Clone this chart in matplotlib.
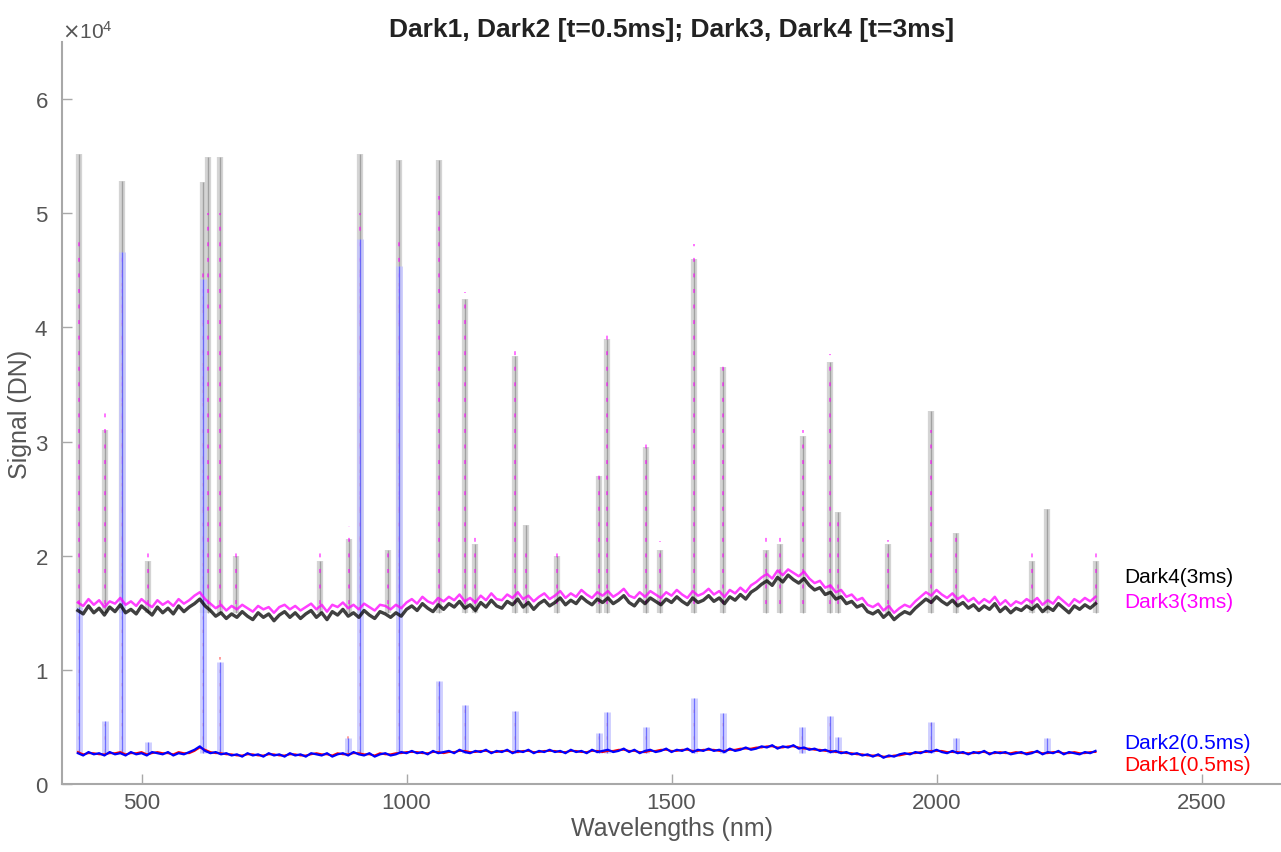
#Dark frames of the spectrometer, two integration times
#baseline samples every 10 nm, spikes listed separately

import numpy as np
import matplotlib.pyplot as plt
from matplotlib.ticker import ScalarFormatter

plt.rcParams['font.family'] = ['Liberation Sans', 'DejaVu Sans']

#wavelength grid of the baseline samples (nm), 380..2300 step 10
wavelength = np.arange(380, 2301, 10)

#baselines in hundreds of DN
dark4_base = [152, 149, 156, 150, 154, 148, 155, 151, 157, 150,
              153, 149, 156, 152, 148, 155, 150, 154, 149, 156,
              151, 155, 158, 162, 156, 152, 147, 150, 145, 149,
              146, 151, 147, 144, 150, 146, 149, 143, 148, 151,
              146, 150, 145, 149, 152, 146, 150, 144, 151, 148,
              153, 147, 150, 146, 152, 148, 145, 151, 149, 146,
              150, 147, 153, 156, 152, 158, 154, 151, 157, 153,
              158, 155, 160, 154, 157, 152, 159, 155, 161, 156,
              154, 160, 157, 162, 155, 159, 153, 158, 161, 156,
              159, 163, 157, 161, 158, 164, 160, 157, 162, 159,
              163, 158, 161, 165, 159, 156, 162, 158, 163, 160,
              157, 162, 159, 164, 160, 157, 163, 159, 161, 165,
              160, 163, 158, 164, 161, 166, 162, 168, 171, 175,
              178, 174, 181, 177, 183, 179, 176, 180, 174, 170,
              172, 166, 168, 162, 164, 158, 160, 155, 157, 151,
              149, 152, 146, 150, 144, 148, 151, 149, 154, 158,
              162, 159, 164, 160, 157, 161, 156, 159, 154, 157,
              152, 156, 153, 158, 151, 155, 150, 154, 152, 156,
              153, 157, 151, 155, 152, 158, 154, 150, 156, 153,
              157, 154, 158]

dark3_base = [159, 156, 162, 157, 161, 155, 160, 158, 163, 157,
              160, 156, 162, 158, 155, 161, 157, 160, 156, 162,
              158, 161, 165, 168, 162, 158, 154, 157, 152, 156,
              153, 157, 154, 151, 156, 153, 155, 150, 155, 157,
              153, 156, 152, 155, 158, 153, 157, 151, 157, 155,
              159, 154, 157, 153, 158, 155, 152, 157, 156, 153,
              157, 154, 159, 162, 158, 164, 160, 158, 163, 160,
              164, 161, 166, 160, 163, 159, 165, 161, 167, 162,
              161, 166, 163, 168, 162, 165, 160, 164, 167, 162,
              165, 169, 163, 167, 164, 170, 166, 163, 168, 165,
              169, 164, 167, 171, 165, 163, 168, 164, 169, 166,
              163, 168, 165, 170, 166, 163, 169, 165, 167, 171,
              166, 169, 164, 170, 167, 172, 168, 174, 177, 181,
              184, 180, 187, 183, 188, 185, 182, 186, 180, 176,
              178, 172, 174, 168, 170, 164, 166, 161, 163, 157,
              155, 158, 152, 156, 150, 154, 157, 155, 160, 164,
              168, 165, 170, 166, 163, 167, 162, 165, 160, 163,
              158, 162, 159, 164, 157, 161, 156, 160, 158, 162,
              159, 163, 157, 161, 158, 164, 160, 156, 162, 159,
              163, 160, 164]

dark2_base = [27, 25, 28, 26, 27, 25, 28, 26, 27, 25,
              28, 26, 27, 25, 28, 27, 26, 28, 25, 27,
              26, 28, 30, 33, 29, 27, 28, 26, 27, 25,
              26, 24, 27, 25, 26, 24, 27, 25, 26, 24,
              27, 25, 26, 24, 27, 26, 25, 27, 24, 26,
              27, 25, 28, 26, 25, 27, 24, 26, 27, 25,
              26, 28, 27, 29, 27, 28, 26, 29, 27, 28,
              29, 27, 30, 28, 27, 29, 28, 30, 27, 29,
              28, 30, 27, 29, 28, 30, 27, 29, 28, 30,
              28, 29, 27, 30, 28, 29, 27, 30, 28, 29,
              30, 28, 29, 31, 28, 30, 27, 29, 30, 28,
              29, 31, 28, 30, 29, 31, 28, 30, 29, 31,
              29, 30, 28, 31, 29, 30, 32, 30, 31, 33,
              32, 34, 31, 33, 32, 34, 31, 32, 30, 31,
              29, 30, 28, 29, 27, 28, 26, 27, 25, 26,
              24, 26, 23, 25, 24, 26, 27, 26, 28, 27,
              29, 28, 30, 28, 27, 29, 27, 28, 26, 28,
              27, 29, 26, 28, 27, 28, 26, 27, 28, 26,
              27, 29, 26, 28, 27, 29, 26, 28, 27, 26,
              28, 27, 29]

dark1_base = [28, 26, 27, 27, 26, 26, 27, 27, 28, 26,
              27, 27, 28, 26, 27, 28, 27, 27, 26, 28,
              27, 27, 29, 32, 30, 28, 27, 27, 26, 26,
              25, 25, 26, 26, 25, 25, 26, 26, 25, 25,
              26, 26, 25, 25, 26, 27, 26, 26, 25, 27,
              26, 26, 27, 27, 26, 26, 25, 27, 26, 26,
              27, 27, 28, 28, 28, 27, 27, 28, 28, 27,
              28, 28, 29, 29, 28, 28, 29, 29, 28, 28,
              29, 29, 28, 28, 29, 29, 28, 28, 29, 29,
              29, 28, 28, 29, 29, 28, 28, 29, 29, 28,
              29, 29, 30, 30, 29, 29, 28, 28, 29, 29,
              30, 30, 29, 29, 30, 30, 29, 29, 30, 30,
              30, 29, 29, 30, 30, 31, 31, 31, 32, 32,
              33, 33, 32, 32, 33, 33, 32, 31, 31, 30,
              30, 29, 29, 28, 28, 27, 27, 26, 26, 25,
              25, 25, 24, 24, 25, 25, 26, 27, 27, 28,
              28, 29, 29, 29, 28, 28, 28, 27, 27, 27,
              28, 28, 27, 27, 28, 27, 27, 28, 27, 27,
              28, 28, 27, 27, 28, 28, 27, 27, 28, 27,
              27, 28, 28]

#narrow spikes: wavelength (nm) and peak (DN)
dark4_spike_nm = [383, 432, 464, 513, 616, 625, 648, 678, 837, 892, 913, 966,
                  985, 1061, 1110, 1129, 1205, 1226, 1284, 1364, 1379, 1451,
                  1479, 1543, 1597, 1678, 1704, 1748, 1799, 1814, 1909, 1990,
                  2036, 2180, 2208, 2301]
dark4_spike_dn = [55200, 31000, 52800, 19500, 52700, 54900, 54900, 20000, 19500,
                  21500, 55200, 20500, 54700, 54700, 42500, 21000, 37500, 22700,
                  20000, 27000, 39000, 29500, 20500, 46000, 36500, 20500, 21000,
                  30500, 37000, 23800, 21000, 32700, 22000, 19500, 24100, 19500]

dark3_spike_nm = [383, 432, 464, 513, 616, 625, 648, 678, 837, 892, 913, 966,
                  985, 1061, 1110, 1129, 1205, 1226, 1284, 1364, 1379, 1451,
                  1479, 1543, 1597, 1678, 1704, 1748, 1799, 1814, 1909, 1990,
                  2036, 2180, 2301]
dark3_spike_dn = [48000, 32700, 47000, 21000, 45000, 50000, 50000, 20500, 20700,
                  22600, 50000, 21000, 48000, 51500, 43100, 22000, 38400, 21000,
                  21200, 27400, 39600, 30200, 21300, 47300, 36900, 21600, 22000,
                  31000, 37700, 23000, 21400, 31000, 22300, 20600, 20400]

dark2_spike_nm = [383, 432, 464, 513, 616, 648, 890, 913, 985, 1061, 1110, 1205,
                  1364, 1379, 1451, 1543, 1597, 1746, 1799, 1814, 1990, 2036, 2208]
dark2_spike_dn = [15500, 5500, 46600, 3700, 44200, 10700, 4000, 47700, 45400,
                  9000, 6900, 6400, 4500, 6300, 5000, 7500, 6200, 5000, 6000,
                  4100, 5400, 4000, 4000]

dark1_spike_nm = [383, 432, 464, 616, 648, 890, 913, 985, 1061, 1110, 1205,
                  1364, 1379, 1451, 1543, 1597, 1746, 1799, 1990, 2036]
dark1_spike_dn = [15000, 5300, 45000, 43000, 11100, 4200, 46000, 44000, 9100,
                  6700, 6300, 4400, 6100, 4900, 7300, 6100, 4800, 5900, 5700, 3800]

fig = plt.figure(figsize=(12.81, 8.53), dpi=100)
ax = fig.add_axes([0.0484, 0.0797, 0.9516, 0.8699])

#spikes first so the baselines sit on top of their feet
ax.vlines(dark4_spike_nm, 15000, dark4_spike_dn, colors="#d4d4d4", lw=4.5, zorder=1)
ax.vlines(dark4_spike_nm, 15000, dark4_spike_dn, colors="#808080", lw=1.0, alpha=0.6, zorder=2)
ax.vlines(dark3_spike_nm, 15800, dark3_spike_dn, colors="#ff00ff", lw=1.4,
          linestyles=(0, (2, 6)), alpha=0.55, zorder=3)
ax.vlines(dark1_spike_nm, 2700, dark1_spike_dn, colors="#ff4040", lw=1.2,
          linestyles=(0, (2, 6)), alpha=0.6, zorder=4)
ax.vlines(dark2_spike_nm, 2700, dark2_spike_dn, colors="#c4c4ff", lw=5, alpha=0.8, zorder=4)
ax.vlines(dark2_spike_nm, 2700, dark2_spike_dn, colors="#3030ff", lw=0.9, alpha=0.6, zorder=5)

ax.plot(wavelength, np.array(dark4_base) * 100, color="black", lw=2.4, alpha=0.75, zorder=6)
ax.plot(wavelength, np.array(dark3_base) * 100, color="#ff00ff", lw=1.8, alpha=0.75, zorder=7)
ax.plot(wavelength, np.array(dark1_base) * 100, color="red", lw=1.4, zorder=8)
ax.plot(wavelength, np.array(dark2_base) * 100, color="blue", lw=1.6, zorder=9)

#series labels at the right end of the lines
ax.text(2355, 18200, "Dark4(3ms)", color="black", fontsize=15, va="center")
ax.text(2355, 16000, "Dark3(3ms)", color="#ff00ff", fontsize=15, va="center")
ax.text(2355, 3600, "Dark2(0.5ms)", color="blue", fontsize=15, va="center")
ax.text(2355, 1750, "Dark1(0.5ms)", color="red", fontsize=15, va="center")

ax.set_xlim(350, 2650)
ax.set_ylim(0, 65000)
ax.set_xticks([500, 1000, 1500, 2000, 2500])
ax.set_yticks([0, 10000, 20000, 30000, 40000, 50000, 60000])

fmt = ScalarFormatter(useMathText=True)
fmt.set_powerlimits((4, 4))
ax.yaxis.set_major_formatter(fmt)
ax.yaxis.get_offset_text().set_fontsize(15)
ax.yaxis.get_offset_text().set_color("#777777")

ax.spines["top"].set_visible(False)
ax.spines["right"].set_visible(False)
for side in ["left", "bottom"]:
    ax.spines[side].set_color("#a8a8a8")
    ax.spines[side].set_linewidth(1.5)
ax.tick_params(direction="in", length=7, width=1, color="#a8a8a8",
               labelcolor="#555555", labelsize=16)
ax.tick_params(axis="x", pad=6)
ax.tick_params(axis="y", pad=10)

ax.set_xlabel("Wavelengths (nm)", fontsize=18, color="#555555", labelpad=2)
ax.set_ylabel("Signal (DN)", fontsize=18, color="#555555", labelpad=2)
ax.set_title("Dark1, Dark2 [t=0.5ms]; Dark3, Dark4 [t=3ms]", fontsize=19,
             fontweight="bold", color="#222222", pad=4)

plt.savefig("out.png", dpi=100)
